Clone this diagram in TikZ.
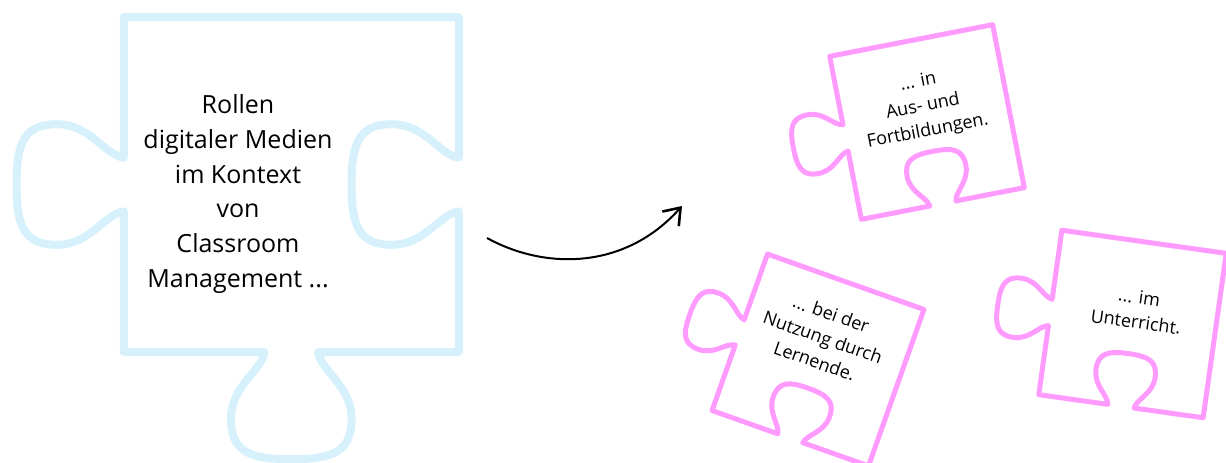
\documentclass[tikz,border=0pt]{standalone}
\usepackage{fontspec}
\setmainfont{Open Sans}
\usepackage[dvipsnames]{xcolor}
\definecolor{rollenblue}{RGB}{214,241,252}
\definecolor{rollenpink}{RGB}{255,155,255}
\usepackage{tikz}
\usetikzlibrary{arrows.meta, positioning, calc}

\tikzset{
    bigline/.style={draw=rollenblue, line width=8pt, line join=round},
    smallline/.style={draw=rollenpink, line width=5pt, line join=round},
    bigtext/.style={align=center, font=\fontsize{25}{34.8}\selectfont, inner sep=0pt},
    smalltext/.style={align=center, font=\fontsize{18}{25}\selectfont, inner sep=0pt},
    weiter/.style={draw=black, line width=2pt, -{Straight Barb[length=15pt, width=22pt, line width=2.6pt]}},
    pics/bigpiece/.style={code={
        \draw[bigline, scale=335] (-0.5,0.5) -- (0.5,0.5) -- (0.5,0.08)
            .. controls (0.44,0.09) and (0.4,0.18) .. (0.3,0.18)
            .. controls (0.2,0.18) and (0.18,0.12) .. (0.18,0)
            .. controls (0.18,-0.12) and (0.2,-0.18) .. (0.3,-0.18)
            .. controls (0.4,-0.18) and (0.44,-0.09) .. (0.5,-0.08)
            -- (0.5,-0.5) -- (0.08,-0.5)
            .. controls (0.09,-0.56) and (0.18,-0.6) .. (0.18,-0.7)
            .. controls (0.18,-0.8) and (0.12,-0.82) .. (0,-0.82)
            .. controls (-0.12,-0.82) and (-0.18,-0.8) .. (-0.18,-0.7)
            .. controls (-0.18,-0.6) and (-0.09,-0.56) .. (-0.08,-0.5)
            -- (-0.5,-0.5) -- (-0.5,-0.08)
            .. controls (-0.56,-0.09) and (-0.6,-0.18) .. (-0.7,-0.18)
            .. controls (-0.8,-0.18) and (-0.82,-0.12) .. (-0.82,0)
            .. controls (-0.82,0.12) and (-0.8,0.18) .. (-0.7,0.18)
            .. controls (-0.6,0.18) and (-0.56,0.09) .. (-0.5,0.08)
            -- cycle;
    }},
    pics/smallpiece/.style={code={
        \draw[smallline, scale=166] (-0.5,0.5) -- (0.5,0.5) -- (0.5,-0.5) -- (0.08,-0.5)
            .. controls (0.09,-0.44) and (0.18,-0.4) .. (0.18,-0.3)
            .. controls (0.18,-0.2) and (0.12,-0.18) .. (0,-0.18)
            .. controls (-0.12,-0.18) and (-0.18,-0.2) .. (-0.18,-0.3)
            .. controls (-0.18,-0.4) and (-0.09,-0.44) .. (-0.08,-0.5)
            -- (-0.5,-0.5) -- (-0.5,-0.08)
            .. controls (-0.56,-0.09) and (-0.6,-0.18) .. (-0.7,-0.18)
            .. controls (-0.8,-0.18) and (-0.82,-0.12) .. (-0.82,0)
            .. controls (-0.82,0.12) and (-0.8,0.18) .. (-0.7,0.18)
            .. controls (-0.6,0.18) and (-0.56,0.09) .. (-0.5,0.08)
            -- cycle;
    }}
}

\begin{document}
\begin{tikzpicture}[x=1pt, y=1pt]
    \useasboundingbox (0,0) rectangle (1226,-463);

    \pic at (291.25,-184.5) {bigpiece};
    \node[bigtext] (rollen) at (238,-194) {Rollen\\digitaler Medien\\im Kontext\\von\\Classroom\\Management ...};

    \coordinate (arrowstart) at (487,-238);
    \coordinate (arrowend) at (682,-206);
    \draw[weiter] (arrowstart) .. controls (545,-270) and (625,-270) .. (arrowend);

    \begin{scope}[shift={(927,-122)}, rotate=11]
        \pic[transform shape] {smallpiece};
        \node[smalltext, rotate=11] (ausbildung) at (-1,15.5) {... in\\Aus- und\\Fortbildungen.};
    \end{scope}

    \begin{scope}[shift={(818,-360)}, rotate=-19.5]
        \pic[transform shape] {smallpiece};
        \node[smalltext, rotate=-19.5] (lernende) at (-3,23) {... bei der\\Nutzung durch\\Lernende.};
    \end{scope}

    \begin{scope}[shift={(1132.5,-324)}, rotate=-8]
        \pic[transform shape] {smallpiece};
        \node[smalltext, rotate=-8] (unterricht) at (3,15) {... im\\Unterricht.};
    \end{scope}
\end{tikzpicture}
\end{document}
